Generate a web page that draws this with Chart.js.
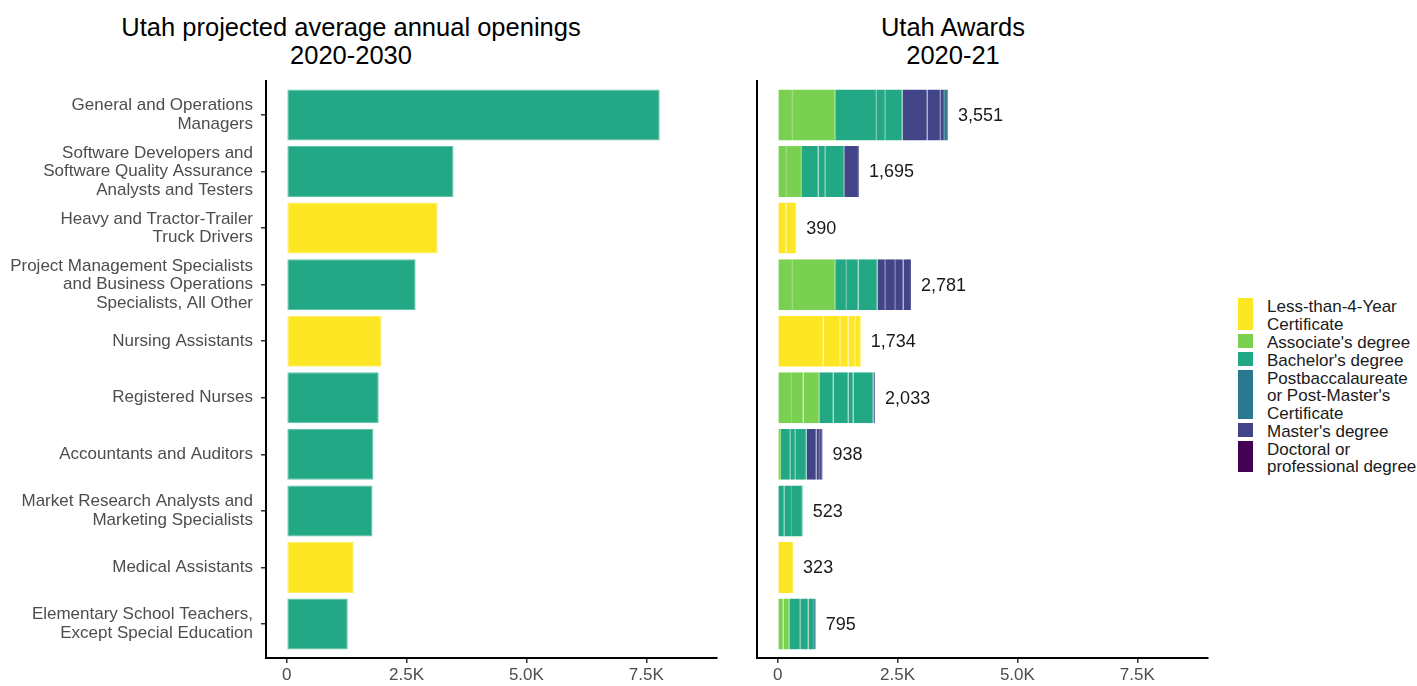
<!DOCTYPE html>
<html>
<head>
<meta charset="utf-8">
<script src="https://cdn.jsdelivr.net/npm/chart.js@4.4.1/dist/chart.umd.min.js"></script>
<style>
    body { margin: 0; background: #fff; font-family: 'Liberation Sans', Arial, sans-serif; }
    #wrap { position: relative; width: 1417px; height: 686px; overflow: hidden; }
    canvas { position: absolute; top: 0; }
    .title { position: absolute; top: 13px; text-align: center; font-size: 25.5px; line-height: 28px; color: #000; }
    #legend { position: absolute; left: 1238px; top: 298px; }
    .item { display: flex; margin-bottom: 0.5px; }
    .box { width: 15px; margin-right: 14px; margin-bottom: 3.5px; }
    .lab { font-size: 17px; line-height: 17.5px; color: #1a1a1a; }
</style>
</head>
<body>
<div id="wrap">
    <div class="title" style="left:0; width:702px;">Utah projected average annual openings<br>2020-2030</div>
    <div class="title" style="left:803px; width:300px;">Utah Awards<br>2020-21</div>
    <canvas id="openChart" width="720" height="686" style="left:0"></canvas>
    <canvas id="awardChart" width="480" height="686" style="left:740px"></canvas>
    <div id="legend"></div>
</div>
<script>
const occupations = [
    ['General and Operations', 'Managers'],
    ['Software Developers and', 'Software Quality Assurance', 'Analysts and Testers'],
    ['Heavy and Tractor-Trailer', 'Truck Drivers'],
    ['Project Management Specialists', 'and Business Operations', 'Specialists, All Other'],
    ['Nursing Assistants'],
    ['Registered Nurses'],
    ['Accountants and Auditors'],
    ['Market Research Analysts and', 'Marketing Specialists'],
    ['Medical Assistants'],
    ['Elementary School Teachers,', 'Except Special Education']
];

// projected average annual openings and the typical education level
const openings = [7780, 3480, 3150, 2690, 1980, 1920, 1810, 1790, 1400, 1275];
const openingLevel = [2, 2, 0, 2, 0, 2, 2, 2, 0, 2];

const awardTotals = [3551, 1695, 390, 2781, 1734, 2033, 938, 523, 323, 795];

const levels = [
    ['Less-than-4-Year', 'Certificate'],
    ["Associate's degree"],
    ["Bachelor's degree"],
    ['Postbaccalaureate', "or Post-Master's", 'Certificate'],
    ["Master's degree"],
    ['Doctoral or', 'professional degree']
];
const levelColors = ['#FDE725', '#7AD151', '#22A884', '#2A788E', '#414487', '#440154'];

// awards by program inside each level, one list per occupation
const certAwards = [[], [], [181, 209], [], [958, 347, 174, 139, 116], [], [], [], [323], []];
const associateAwards = [[319, 882], [194, 313], [], [319, 882], [], [299, 243, 326], [69], [], [], [125, 118]];
const bachelorAwards = [[868, 174, 361], [347, 139, 396], [], [243, 243, 396], [], [299, 313, 104, 414], [194, 104, 238], [139, 160, 224], [], [229, 174, 114]];
const postbaccAwards = [[79], [], [], [], [], [], [], [], [], [35]];
const masterAwards = [[521, 278, 69], [306], [], [160, 208, 174, 156], [], [35], [208, 69, 56], [], [], []];
const doctoralAwards = [[], [], [], [], [], [], [], [], [], []];

const xTicks = [0, 2500, 5000, 7500];
const xTickLabels = ['0', '2.5K', '5.0K', '7.5K'];
const xMin = -430;
const xMax = 8975;

Chart.defaults.font.family = "'Liberation Sans', Arial, sans-serif";

const lighten = (hex, f) => {
    const n = parseInt(hex.slice(1), 16);
    const mix = (c) => Math.round(c + (255 - c) * f);
    return `rgb(${mix(n >> 16)}, ${mix((n >> 8) & 255)}, ${mix(n & 255)})`;
};

const xScale = () => ({
    type: 'linear',
    min: xMin,
    max: xMax,
    stacked: true,
    afterBuildTicks: (axis) => { axis.ticks = xTicks.map((v) => ({ value: v })); },
    afterFit: (axis) => { axis.height = 28; },
    ticks: {
        color: '#4d4d4d',
        font: { size: 17 },
        padding: 2,
        callback: (value) => xTickLabels[xTicks.indexOf(value)]
    },
    grid: { drawOnChartArea: false, drawTicks: true, tickLength: 5, color: '#333', lineWidth: 1.5 },
    border: { display: true, color: '#000', width: 2 }
});

// occupations sit on a numeric axis so the ggplot style 0.6 padding can be kept
const yScale = (width, showLabels) => ({
    type: 'linear',
    reverse: true,
    offset: false,
    min: -0.6,
    max: 9.6,
    stacked: true,
    afterBuildTicks: (axis) => { axis.ticks = occupations.map((_, i) => ({ value: i })); },
    afterFit: (axis) => { axis.width = width; },
    ticks: {
        display: showLabels,
        autoSkip: false,
        color: '#4d4d4d',
        font: { size: 17, lineHeight: '18.5px' },
        padding: 8,
        callback: (value) => occupations[value]
    },
    grid: { offset: false, drawOnChartArea: false, drawTicks: showLabels, tickLength: 5, color: '#333', lineWidth: 1.5 },
    border: { display: true, color: '#000', width: 2 }
});

const baseOptions = (padding) => ({
    indexAxis: 'y',
    responsive: false,
    animation: false,
    layout: { padding: padding },
    plugins: { legend: { display: false }, tooltip: { enabled: false } }
});

// left panel
const openOptions = baseOptions({ top: 81, right: 3, left: 0, bottom: 0 });
openOptions.scales = { x: xScale(), y: yScale(266, true) };

new Chart(document.getElementById('openChart'), {
    type: 'bar',
    data: {
        datasets: [{
            data: openings.map((v, i) => ({ x: v, y: i })),
            backgroundColor: openingLevel.map((l) => levelColors[l]),
            borderColor: openingLevel.map((l) => lighten(levelColors[l], 0.3)),
            borderWidth: 1,
            borderSkipped: false,
            barPercentage: 0.9,
            categoryPercentage: 1
        }]
    },
    options: openOptions
});

// right panel, one dataset per program slot inside each level
const awardsByLevel = [certAwards, associateAwards, bachelorAwards, postbaccAwards, masterAwards, doctoralAwards];
const stackOrder = [0, 1, 2, 4, 3, 5];

const awardDatasets = [];
stackOrder.forEach((l) => {
    const lists = awardsByLevel[l];
    const slots = Math.max(...lists.map((p) => p.length));
    for (let k = 0; k < slots; k++) {
        awardDatasets.push({
            data: lists.map((p, i) => ({ x: p[k] ?? null, y: i })),
            backgroundColor: levelColors[l],
            borderColor: lighten(levelColors[l], 0.12),
            borderWidth: { right: 1, top: 0, bottom: 0, left: 0 },
            borderSkipped: 'start',
            barPercentage: 0.9,
            categoryPercentage: 1
        });
    }
});

const totalLabels = {
    id: 'totalLabels',
    afterDatasetsDraw(chart) {
        const { ctx, scales: { x, y } } = chart;
        ctx.save();
        ctx.font = "18px 'Liberation Sans', Arial, sans-serif";
        ctx.fillStyle = '#1a1a1a';
        ctx.textBaseline = 'middle';
        awardTotals.forEach((t, i) => {
            ctx.fillText(t.toLocaleString('en-US'), x.getPixelForValue(t) + 10, y.getPixelForValue(i) + 1);
        });
        ctx.restore();
    }
};

const awardOptions = baseOptions({ top: 81, right: 12, left: 0, bottom: 0 });
awardOptions.scales = { x: xScale(), y: yScale(17, false) };

new Chart(document.getElementById('awardChart'), {
    type: 'bar',
    data: { datasets: awardDatasets },
    options: awardOptions,
    plugins: [totalLabels]
});

// legend
const legend = document.getElementById('legend');
levels.forEach((lines, i) => {
    const item = document.createElement('div');
    item.className = 'item';
    item.innerHTML = `<div class="box" style="background:${levelColors[i]}"></div><div class="lab">${lines.join('<br>')}</div>`;
    legend.appendChild(item);
});
</script>
</body>
</html>
